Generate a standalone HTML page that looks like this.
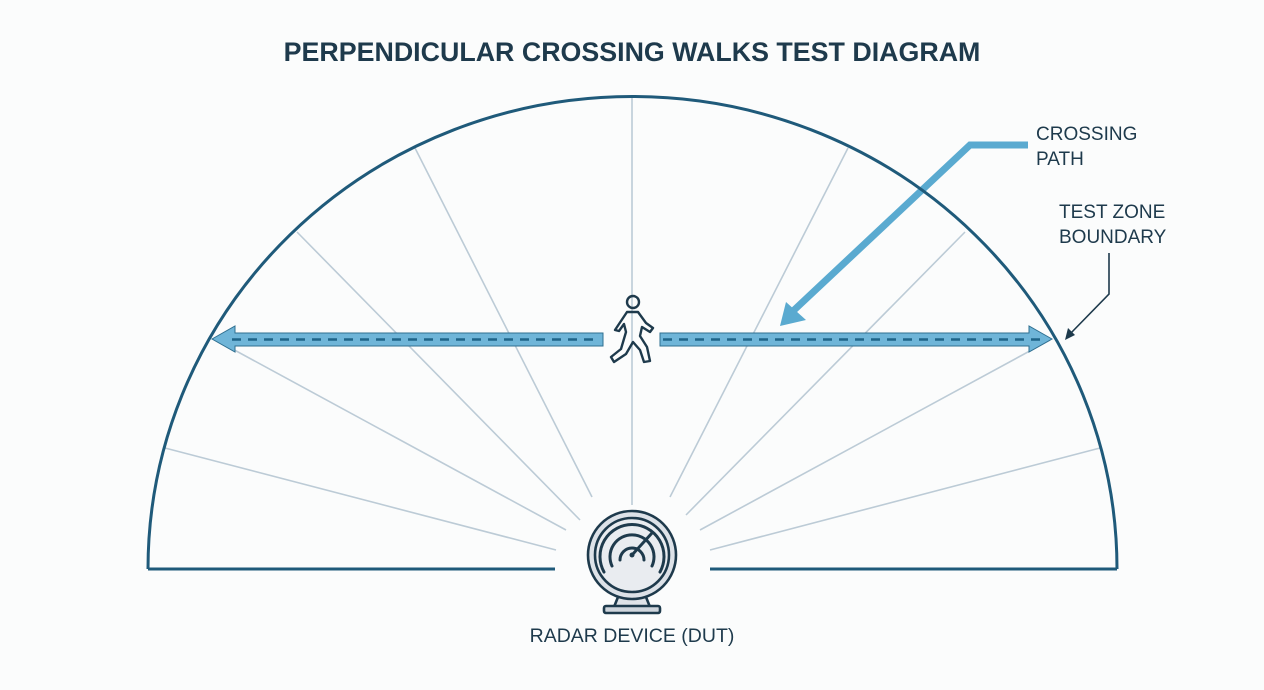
<!DOCTYPE html>
<html><head><meta charset="utf-8"><style>
html,body{margin:0;padding:0;background:#fbfcfc;}
svg{display:block}
text{font-family:"Liberation Sans",sans-serif;}
</style></head><body>
<svg width="1264" height="690" viewBox="0 0 1264 690" xmlns="http://www.w3.org/2000/svg">
<rect width="1264" height="690" fill="#fbfcfc"/>
<text x="632" y="61" text-anchor="middle" font-size="26.8" font-weight="bold" fill="#1e3a4c">PERPENDICULAR CROSSING WALKS TEST DIAGRAM</text>
<g stroke="#bccbd6" stroke-width="1.6" fill="none">
<line x1="632" y1="98" x2="632" y2="505"/>
<line x1="415" y1="148" x2="592" y2="497"/>
<line x1="297" y1="232" x2="580" y2="520"/>
<line x1="216" y1="340" x2="566" y2="530"/>
<line x1="165" y1="448" x2="556" y2="550"/>
<line x1="848" y1="148" x2="670" y2="497"/>
<line x1="965" y1="232" x2="686" y2="515"/>
<line x1="1050" y1="340" x2="700" y2="530"/>
<line x1="1100" y1="448" x2="710" y2="550"/>
</g>
<polyline points="1028,145 970,145 792,312" fill="none" stroke="#5aaad0" stroke-width="7"/>
<polygon points="780,326 786,302 806,320" fill="#5aaad0"/>
<path d="M148,569 A484,472 0 0 1 1117,569" fill="none" stroke="#1f5a7a" stroke-width="3"/>
<line x1="148" y1="569" x2="555" y2="569" stroke="#1f5a7a" stroke-width="3"/>
<line x1="710" y1="569" x2="1117" y2="569" stroke="#1f5a7a" stroke-width="3"/>
<g fill="#6fb5d8" stroke="#2f6f90" stroke-width="1">
<polygon points="212,339 235,326 235,333 603,333 603,346 235,346 235,352"/>
<polygon points="1052,339 1029,326 1029,333 660,333 660,346 1029,346 1029,352"/>
</g>
<g stroke="#1f6488" stroke-width="2.5" stroke-dasharray="9,7">
<line x1="232" y1="339.5" x2="600" y2="339.5"/>
<line x1="663" y1="339.5" x2="1040" y2="339.5"/>
</g>
<g fill="none" stroke="#1e3a4c" stroke-width="2.4" stroke-linejoin="round" stroke-linecap="round">
<circle cx="633" cy="302" r="6"/>
<path d="M627,312 L638,312 L646,323 L653,328 L650,332 L642,327 L640,336 L647,347 L650,361 L644,362 L640,350 L633,342 L626,354 L614,362 L611,357 L621,349 L626,332 L624,324 L619,331 L615,330 Z"/>
</g>
<g stroke="#1e3a4c" stroke-width="2.6">
<path d="M618,597 L646,597 L650,607 L614,607 Z" fill="#dfe3e8"/>
<rect x="604" y="606" width="56" height="7" rx="2" fill="#cfd5dc"/>
<circle cx="632" cy="555" r="44" fill="#dde2e8"/>
<circle cx="632" cy="555" r="37" fill="#e9ecf0"/>
</g>
<g stroke="#1e3a4c" stroke-width="3" fill="none" stroke-linecap="round">
<path d="M604,572 A32,32 0 1 1 660,572"/>
<path d="M612,566 A22,22 0 1 1 652,566"/>
<path d="M620,560 A12,12 0 1 1 644,560"/>
<line x1="632" y1="555" x2="652" y2="533"/>
</g>
<circle cx="632" cy="555" r="2.5" fill="#1e3a4c"/>
<text x="632" y="642" text-anchor="middle" font-size="19.5" fill="#1e3a4c">RADAR DEVICE (DUT)</text>
<text x="1036" y="140" font-size="19" fill="#1e3a4c">CROSSING</text>
<text x="1036" y="165" font-size="19" fill="#1e3a4c">PATH</text>
<text x="1059" y="218" font-size="19" fill="#1e3a4c">TEST ZONE</text>
<text x="1059" y="243" font-size="19" fill="#1e3a4c">BOUNDARY</text>
<polyline points="1109,253 1109,294 1070,334" fill="none" stroke="#1e3a4c" stroke-width="1.6"/>
<polygon points="1065,340 1068,328 1075,335" fill="#1e3a4c"/>
</svg>
</body></html>
